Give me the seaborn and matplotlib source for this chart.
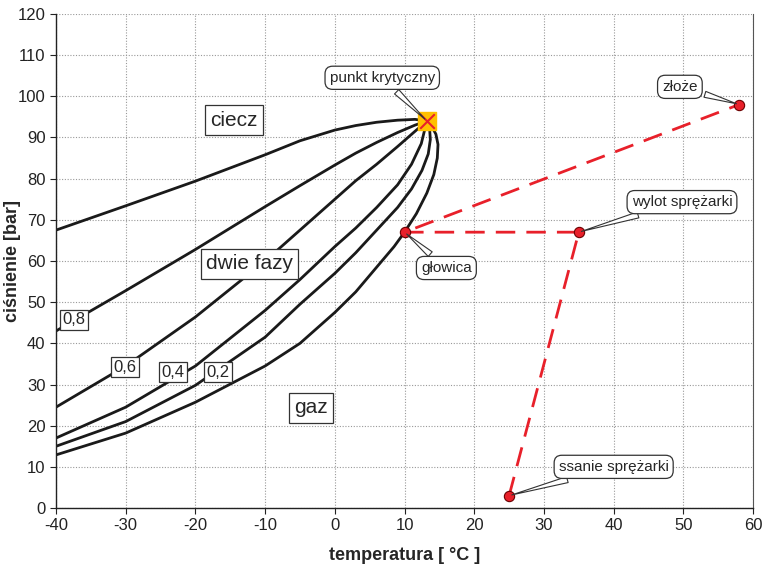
import numpy as np
import pandas as pd
import matplotlib
matplotlib.use("Agg")
import matplotlib.pyplot as plt
import seaborn as sns

# critical point
crit_t, crit_p = 13.2, 94.0

# phase envelope lines, quality x = 1 .. 0
t_x10 = [-40, -30, -20, -10, -5, 0, 3, 6, 9, 11.5, 13.2]
p_x10 = [67.5, 73.4, 79.4, 85.8, 89.2, 91.8, 92.9, 93.7, 94.2, 94.4, 94.0]
t_x08 = [-40, -30, -20, -10, -5, 0, 3, 6, 9, 11.5, 13.2]
p_x08 = [43.0, 52.8, 62.8, 73.2, 78.3, 83.3, 86.2, 88.8, 91.2, 93.0, 94.0]
t_x06 = [-40, -30, -20, -10, -5, 0, 3, 6, 9, 11.5, 13.2]
p_x06 = [24.5, 34.5, 46.4, 60.0, 67.5, 75.0, 79.5, 83.5, 87.8, 91.5, 94.0]
t_x04 = [-40, -30, -20, -10, -5, 0, 3, 6, 9, 11, 12.4, 13.2]
p_x04 = [17.0, 24.5, 34.5, 48.0, 55.5, 63.5, 68.0, 73.0, 78.5, 83.5, 88.5, 94.0]
t_x02 = [-40, -30, -20, -10, -5, 0, 3, 6, 9, 11.0, 12.5, 13.4, 13.7, 13.6, 13.2]
p_x02 = [15.0, 21.0, 29.8, 41.5, 49.5, 57.0, 62.0, 67.5, 73.0, 77.5, 82.0, 86.0, 89.5, 92.0, 94.0]
t_x00 = [-40, -30, -20, -10, -5, 0, 3, 6, 8.5, 10, 11.7, 13.2, 14.2, 14.7, 14.8, 14.5, 13.9, 13.2]
p_x00 = [12.9, 18.2, 25.7, 34.5, 40.0, 47.5, 52.5, 58.5, 63.5, 67.0, 71.5, 76.5, 81.0, 85.0, 88.3, 90.8, 92.7, 94.0]

# process path
path_names = ["ssanie sprężarki", "wylot sprężarki", "głowica", "złoże"]
path_t = [25, 35, 10, 58]
path_p = [3, 67, 67, 98]

quality_labels = ["0,8", "0,6", "0,4", "0,2"]

curves = pd.concat([
    pd.DataFrame({"t": t, "p": p, "x": name})
    for name, t, p in [("1.0", t_x10, p_x10), ("0.8", t_x08, p_x08),
                       ("0.6", t_x06, p_x06), ("0.4", t_x04, p_x04),
                       ("0.2", t_x02, p_x02), ("0.0", t_x00, p_x00)]
])

sns.set_style("white")
plt.rcParams['font.family'] = ['Liberation Sans', 'DejaVu Sans']
plt.rcParams['axes.unicode_minus'] = False

fig, ax = plt.subplots(figsize=(7.63, 5.68), dpi=100)
fig.subplots_adjust(left=0.0734, right=0.987, top=0.9754, bottom=0.1056)

# estimator=None so repeated temperatures (curve bending back) are kept as is
for name, grp in curves.groupby("x"):
    sns.lineplot(data=grp, x="t", y="p", sort=False, estimator=None, color="#1a1a1a",
                 linewidth=2.0, ax=ax, legend=False)

# dashed process path
ax.plot(path_t, path_p, color="#e8202a", linestyle=(0, (7, 4)), linewidth=2.0, zorder=4)
sns.scatterplot(x=path_t, y=path_p, color="#e8202a", edgecolor="#6b0000",
                s=55, linewidth=0.8, zorder=6, ax=ax)

# critical point marker
ax.scatter([crit_t], [crit_p], marker="s", s=150, color="#ffc000", zorder=7)
ax.scatter([crit_t], [crit_p], marker="x", s=110, color="#e8202a", linewidths=1.5, zorder=8)

box_round = dict(boxstyle="round,pad=0.3,rounding_size=0.5", fc="white", ec="#333333", lw=0.9)
arrow = dict(arrowstyle="wedge,tail_width=0.4,shrink_factor=0.5", fc="white", ec="#333333", lw=0.8)

ax.annotate("punkt krytyczny", xy=(crit_t, crit_p), xytext=(6.8, 104.5),
            ha="center", va="center", fontsize=11, bbox=box_round, arrowprops=arrow, zorder=9)
ann_pos = {"ssanie sprężarki": (40, 10), "wylot sprężarki": (49.8, 74.3),
           "głowica": (16, 58.3), "złoże": (49.5, 102.3)}
for name, t, p in zip(path_names, path_t, path_p):
    ax.annotate(name, xy=(t, p), xytext=ann_pos[name], ha="center", va="center",
                fontsize=11, bbox=box_round, arrowprops=arrow, zorder=9)

box_sq = dict(boxstyle="square,pad=0.25", fc="white", ec="#333333", lw=0.9)
ax.text(-14.5, 94.2, "ciecz", fontsize=15, ha="center", va="center", bbox=box_sq)
ax.text(-12.2, 59.3, "dwie fazy", fontsize=15, ha="center", va="center", bbox=box_sq)
ax.text(-3.4, 24.3, "gaz", fontsize=15, ha="center", va="center", bbox=box_sq)

box_q = dict(boxstyle="square,pad=0.15", fc="white", ec="#333333", lw=0.9)
for lab, (t, p) in zip(quality_labels, [(-37.4, 45.7), (-30.1, 34.2), (-23.2, 33.0), (-16.8, 33.0)]):
    ax.text(t, p, lab, fontsize=12, ha="center", va="center", bbox=box_q, zorder=5)

ax.set_xlim(-40, 60)
ax.set_ylim(0, 120)
ax.set_xticks(np.arange(-40, 61, 10))
ax.set_yticks(np.arange(0, 121, 10))
ax.tick_params(axis="both", labelsize=12, direction="out", length=4, width=0.8,
               left=True, bottom=True, colors="#222222")
ax.grid(True, color="#999999", linestyle=(0, (1, 1.5)), linewidth=0.8)
ax.set_axisbelow(True)
ax.spines["top"].set_visible(False)
ax.spines["right"].set_color("#555555")
for s in ["left", "bottom"]:
    ax.spines[s].set_color("#222222")
    ax.spines[s].set_linewidth(1.0)

ax.set_xlabel("temperatura [ °C ]", fontsize=13, fontweight="bold", labelpad=10)
ax.set_ylabel("ciśnienie [bar]", fontsize=13, fontweight="bold")
ax.yaxis.set_label_coords(-0.05, 0.5)

fig.savefig("out.png", dpi=100)
